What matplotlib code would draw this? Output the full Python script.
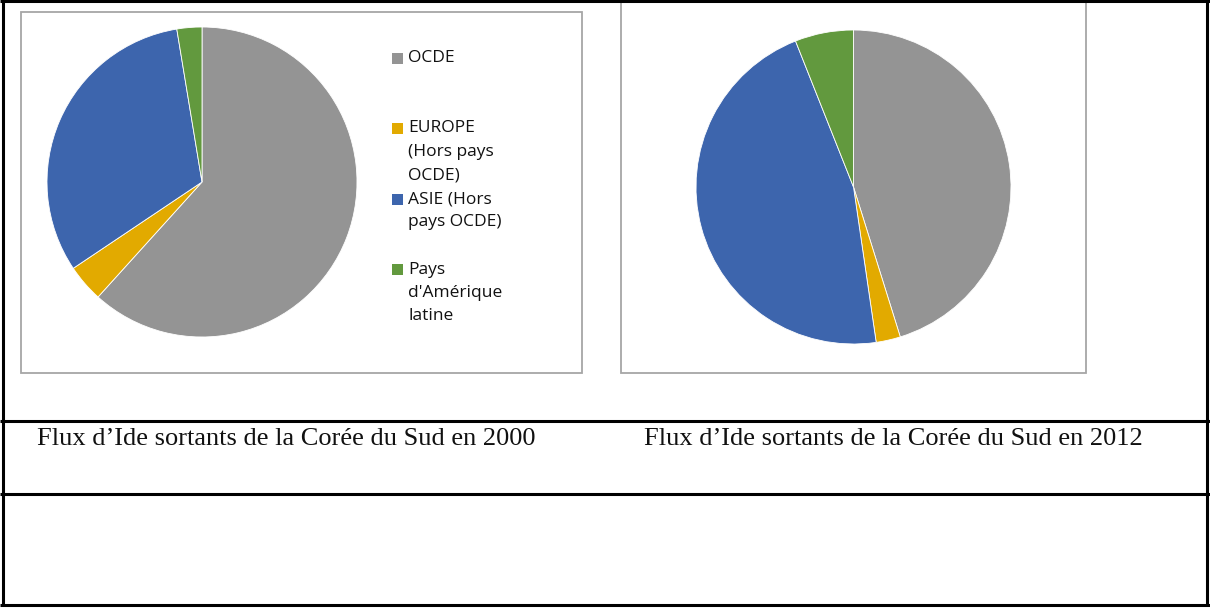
import matplotlib
matplotlib.use("Agg")
import matplotlib.pyplot as plt
from matplotlib.patches import Rectangle
from matplotlib.lines import Line2D

categories = ["OCDE", "EUROPE\n(Hors pays\nOCDE)", "ASIE (Hors\npays OCDE)", "Pays\nd'Amérique\nlatine"]
values_2000 = [61.7, 3.9, 31.8, 2.6]
values_2012 = [45.2, 2.5, 46.3, 6.0]
colors = ["#949494", "#E2AA00", "#3D65AD", "#62993E"]
captions = ["Flux d’Ide sortants de la Corée du Sud en 2000",
            "Flux d’Ide sortants de la Corée du Sud en 2012"]

W, H = 1210, 608
fig = plt.figure(figsize=(W / 100, H / 100), dpi=100)

# background axes in pixel coordinates (y downward)
bg = fig.add_axes([0, 0, 1, 1])
bg.set_xlim(0, W)
bg.set_ylim(H, 0)
bg.axis("off")

# outer table lines
blk = dict(color="black", lw=2.2, solid_capstyle="butt")
bg.add_line(Line2D([3, 3], [0, 605], **blk))
bg.add_line(Line2D([1207, 1207], [0, 605], **blk))
bg.add_line(Line2D([0, W], [0.8, 0.8], **blk))
bg.add_line(Line2D([0, W], [420.5, 420.5], **blk))
bg.add_line(Line2D([0, W], [494, 494], **blk))
bg.add_line(Line2D([0, W], [605, 605], **blk))

# chart frames
bg.add_patch(Rectangle((21, 12), 561, 361, fill=False, ec="#A6A6A6", lw=1.3))
bg.add_patch(Rectangle((621, 1), 465, 372, fill=False, ec="#A6A6A6", lw=1.3))

# captions
bg.text(37, 439, captions[0], family="Liberation Serif", fontsize=19,
        va="center", ha="left", color="#111111")
bg.text(644, 439, captions[1], family="Liberation Serif", fontsize=19,
        va="center", ha="left", color="#111111")


def pie_axes(cx, cy, rx, ry):
    return fig.add_axes([(cx - rx) / W, (H - cy - ry) / H, 2 * rx / W, 2 * ry / H])


ax1 = pie_axes(202, 182, 155, 155)
ax1.pie(values_2000, colors=colors, startangle=90, counterclock=False,
        wedgeprops=dict(edgecolor="white", linewidth=0.6))
ax1.set_xlim(-1, 1); ax1.set_ylim(-1, 1); ax1.set_aspect("auto")
ax1.axis("off")

ax2 = pie_axes(853.5, 187, 157.5, 157)
ax2.pie(values_2012, colors=colors, startangle=90, counterclock=False,
        wedgeprops=dict(edgecolor="white", linewidth=0.6))
ax2.set_xlim(-1, 1); ax2.set_ylim(-1, 1); ax2.set_aspect("auto")
ax2.axis("off")

# legend (manual, Excel-like equal entry spacing)
for i, (lab, col) in enumerate(zip(categories, colors)):
    y0 = 52.5 + 70.5 * i
    bg.add_patch(Rectangle((392, y0), 11, 11, color=col, lw=0))
    bg.text(408, y0 - 2.5, lab, family="Open Sans", fontsize=12.5, va="top",
            ha="left", color="#111111", linespacing=1.62)

fig.savefig("out.png", dpi=100)
